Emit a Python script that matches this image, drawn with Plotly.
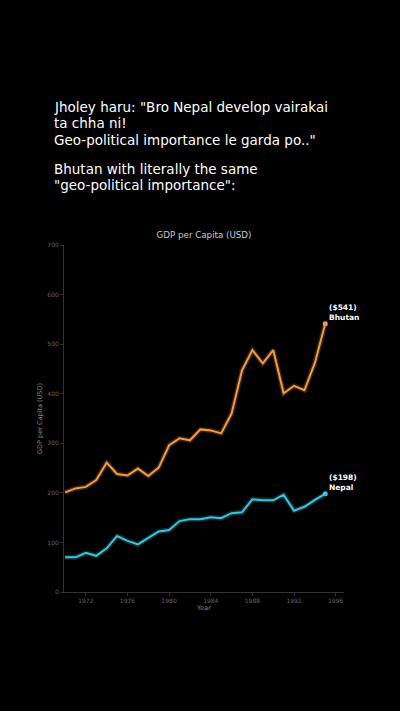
"""GDP per capita: Bhutan vs Nepal, meme-style dark chart."""

import plotly.graph_objects as go

years = list(range(1970, 1996))
bhutan_gdp = [201, 209, 212, 226, 261, 238, 235, 249, 234, 251,
              296, 310, 306, 328, 326, 320, 360, 447, 488, 461,
              488, 401, 416, 407, 462, 541]
nepal_gdp = [70, 70, 79, 73, 88, 113, 103, 96, 109, 122,
             125, 143, 147, 147, 151, 149, 159, 161, 187, 185,
             185, 196, 164, 172, 186, 198]

caption_lines = [
    'Jholey haru: "Bro Nepal develop vairakai',
    "ta chha ni!",
    'Geo-political importance le garda po.."',
    "",
    "Bhutan with literally the same",
    '"geo-political importance":',
]

BG = "#000000"
ORANGE = "#f29a45"
CYAN = "#3ec3dc"

fig = go.Figure()

for name, vals, col, glow in [
    ("Bhutan", bhutan_gdp, ORANGE, "rgba(242,154,69,0.22)"),
    ("Nepal", nepal_gdp, CYAN, "rgba(62,195,220,0.22)"),
]:
    # soft glow under the line
    fig.add_trace(go.Scatter(x=years, y=vals, mode="lines",
                             line=dict(color=glow, width=5),
                             hoverinfo="skip", showlegend=False))
    fig.add_trace(go.Scatter(x=years, y=vals, mode="lines", name=name,
                             line=dict(color=col, width=2), showlegend=False))
    fig.add_trace(go.Scatter(x=[years[-1]], y=[vals[-1]], mode="markers",
                             marker=dict(color=col, size=5),
                             hoverinfo="skip", showlegend=False))
    fig.add_annotation(
        x=years[-1], y=vals[-1], xref="x", yref="y",
        text=f"<b>(${vals[-1]})<br>{name}</b>",
        showarrow=False, xanchor="left", yanchor="bottom", align="left",
        xshift=2, yshift=0,
        font=dict(family="DejaVu Sans", size=7.5, color="#ffffff"),
    )

# caption above the chart, one annotation per line (paper px -> paper coords)
PLOT_TOP, PLOT_H, PLOT_L, PLOT_W = 245, 347, 64, 280
line_y = [107, 123, 140, 156, 169, 185]
for txt, py in zip(caption_lines, line_y):
    if not txt:
        continue
    fig.add_annotation(
        x=(52 - PLOT_L) / PLOT_W, y=1 + (PLOT_TOP - py) / PLOT_H,
        xref="paper", yref="paper", text=txt, showarrow=False,
        xanchor="left", yanchor="middle", align="left",
        font=dict(family="DejaVu Sans", size=13.5, color="#ffffff"),
    )

fig.update_layout(
    width=400,
    height=711,
    paper_bgcolor=BG,
    plot_bgcolor=BG,
    margin=dict(l=64, r=56, t=245, b=119),
    title=dict(text="GDP per Capita (USD)", x=0.51, xanchor="center",
               y=1 - 235 / 711, yanchor="middle",
               font=dict(family="DejaVu Sans", size=8.7, color="#cccccc")),
    font=dict(family="DejaVu Sans"),
)
fig.update_xaxes(
    range=[1969.9, 1996.8], tickmode="array",
    tickvals=[1972, 1976, 1980, 1984, 1988, 1992, 1996],
    showgrid=False, zeroline=False, showline=True, linecolor="#333333",
    linewidth=1, ticks="outside", ticklen=3, tickcolor="#333333",
    tickfont=dict(size=6, color="#666666"),
    title=dict(text="Year", font=dict(size=6.5, color="#888888"), standoff=2),
)
fig.update_yaxes(
    range=[0, 700], tickvals=[0, 100, 200, 300, 400, 500, 600, 700],
    showgrid=False, zeroline=False, showline=True, linecolor="#333333",
    linewidth=1, ticks="outside", ticklen=3, tickcolor="#333333",
    tickfont=dict(size=6, color="#666666"),
    title=dict(text="GDP per Capita (USD)", font=dict(size=6.5, color="#888888"),
               standoff=4),
)

# drop the default page margin so the figure fills the window edge to edge
fig.write_html(
    "out.html",
    config={"displayModeBar": False},
    post_script="document.body.style.margin='0';"
                "document.body.style.background='#000';",
)
